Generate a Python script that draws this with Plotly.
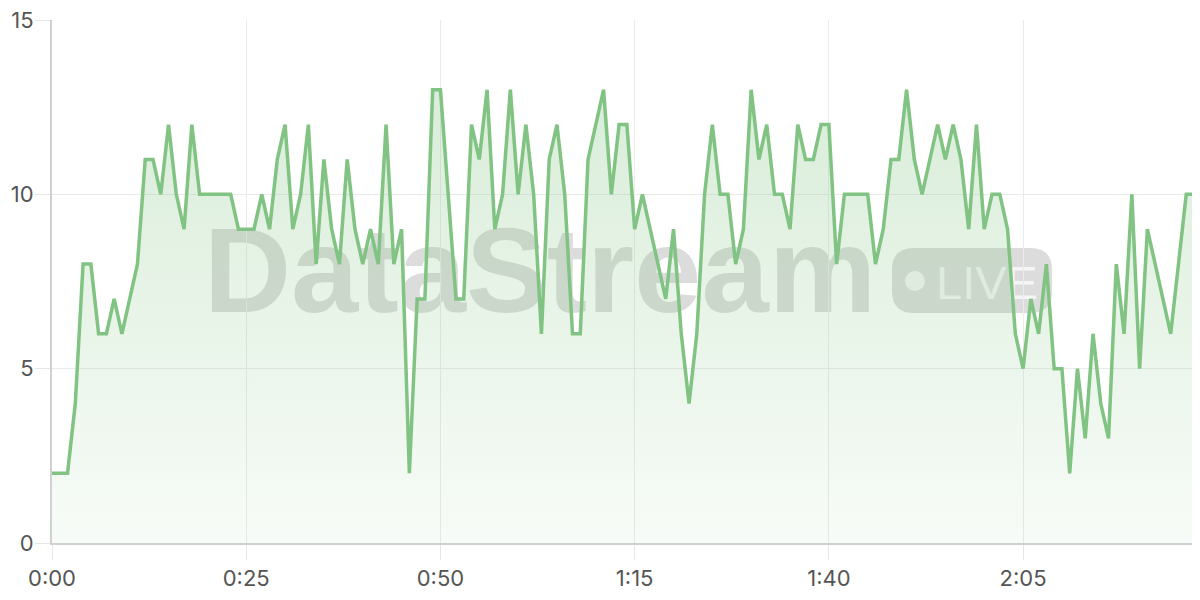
import plotly.graph_objects as go

# ---- data ----
seconds = list(range(148))
values = [
    2, 2, 2, 4, 8, 8, 6, 6, 7, 6,
    7, 8, 11, 11, 10, 12, 10, 9, 12, 10,
    10, 10, 10, 10, 9, 9, 9, 10, 9, 11,
    12, 9, 10, 12, 8, 11, 9, 8, 11, 9,
    8, 9, 8, 12, 8, 9, 2, 7, 7, 13,
    13, 10, 7, 7, 12, 11, 13, 9, 10, 13,
    10, 12, 10, 6, 11, 12, 10, 6, 6, 11,
    12, 13, 10, 12, 12, 9, 10, 9, 8, 7,
    9, 6, 4, 6, 10, 12, 10, 10, 8, 9,
    13, 11, 12, 10, 10, 9, 12, 11, 11, 12,
    12, 8, 10, 10, 10, 10, 8, 9, 11, 11,
    13, 11, 10, 11, 12, 11, 12, 11, 9, 12,
    9, 10, 10, 9, 6, 5, 7, 6, 8, 5,
    5, 2, 5, 3, 6, 4, 3, 8, 6, 10,
    5, 9, 8, 7, 6, 8, 10, 10,
]
x_tick_values = [0, 25, 50, 75, 100, 125]
x_tick_labels = ["0:00", "0:25", "0:50", "1:15", "1:40", "2:05"]
y_tick_values = [0, 5, 10, 15]

# ---- layout geometry (pixels; page body has an 8px offset) ----
OFF = 8
W, H = 1200 - OFF, 600 - OFF
ML, MR, MT, MB = 52 - OFF, 6, 20 - OFF, 57
PW, PH = W - ML - MR, H - MT - MB


def px(x):  # screen x -> paper
    return (x - OFF - ML) / PW


def py(y):  # screen y -> paper
    return (H - MB - (y - OFF)) / PH


GREEN = "rgb(129,195,130)"

fig = go.Figure()
fig.add_trace(go.Scatter(
    x=seconds, y=values, mode="lines",
    line=dict(color=GREEN, width=3.5),
    fill="tozeroy",
    fillgradient=dict(type="vertical", colorscale=[
        [0, "rgba(129,195,130,0.06)"],
        [1, "rgba(129,195,130,0.30)"],
    ]),
    hoverinfo="skip", showlegend=False,
))

WM = "rgba(120,120,120,0.26)"
WL = "rgba(255,255,255,0.72)"


def rounded_rect(x0, y0, x1, y1, r):
    rx, ry = r / PW, r / PH
    a0, b0, a1, b1 = px(x0), py(y1), px(x1), py(y0)  # b0 bottom, b1 top
    return (f"M{a0+rx},{b0} L{a1-rx},{b0} Q{a1},{b0} {a1},{b0+ry} "
            f"L{a1},{b1-ry} Q{a1},{b1} {a1-rx},{b1} L{a0+rx},{b1} "
            f"Q{a0},{b1} {a0},{b1-ry} L{a0},{b0+ry} Q{a0},{b0} {a0+rx},{b0} Z")


shapes = [
    # DataStream text
    dict(type="rect", xref="paper", yref="paper", layer="below",
         x0=px(190), x1=px(890), y0=py(316), y1=py(201),
         line=dict(width=0), fillcolor="rgba(0,0,0,0)",
         label=dict(text="DataStream", textposition="middle center",
                    font=dict(family="Liberation Sans", size=121, color=WM, weight=700))),
    # LIVE pill
    dict(type="path", xref="paper", yref="paper", layer="below",
         path=rounded_rect(892, 248, 1052, 313, 22),
         line=dict(width=0), fillcolor=WM),
    dict(type="circle", xref="paper", yref="paper", layer="below",
         x0=px(905), x1=px(925), y0=py(291), y1=py(271),
         line=dict(width=0), fillcolor=WL),
    dict(type="rect", xref="paper", yref="paper", layer="below",
         x0=px(934), x1=px(1040), y0=py(303), y1=py(254),
         line=dict(width=0), fillcolor="rgba(0,0,0,0)",
         label=dict(text="LIVE", textposition="middle center",
                    font=dict(family="Liberation Sans", size=47, color=WL))),
]

TICKFONT = dict(family="Inter", size=22, color="#555555")

fig.update_layout(
    width=W, height=H,
    margin=dict(l=ML, r=MR, t=MT, b=MB),
    paper_bgcolor="white", plot_bgcolor="white",
    shapes=shapes,
    font=TICKFONT,
)
fig.update_xaxes(
    range=[0, 147], tickvals=x_tick_values, ticktext=x_tick_labels,
    showgrid=True, gridcolor="#ebebeb", gridwidth=1,
    showline=True, linecolor="#d0d0d0", linewidth=2,
    ticks="outside", ticklen=15, tickcolor="#e6e6e6", tickwidth=1,
    zeroline=False, automargin=False, ticklabeloverflow="allow",
    tickfont=TICKFONT,
)
fig.update_yaxes(
    range=[0, 15], tickvals=y_tick_values,
    showgrid=True, gridcolor="#ebebeb", gridwidth=1,
    showline=True, linecolor="#d0d0d0", linewidth=2,
    ticks="outside", ticklen=15, tickcolor="#e6e6e6", tickwidth=1,
    zeroline=False, automargin=False, ticklabeloverflow="allow",
    ticklabelstandoff=-3, tickfont=TICKFONT,
)

fig.write_html("out.html")
